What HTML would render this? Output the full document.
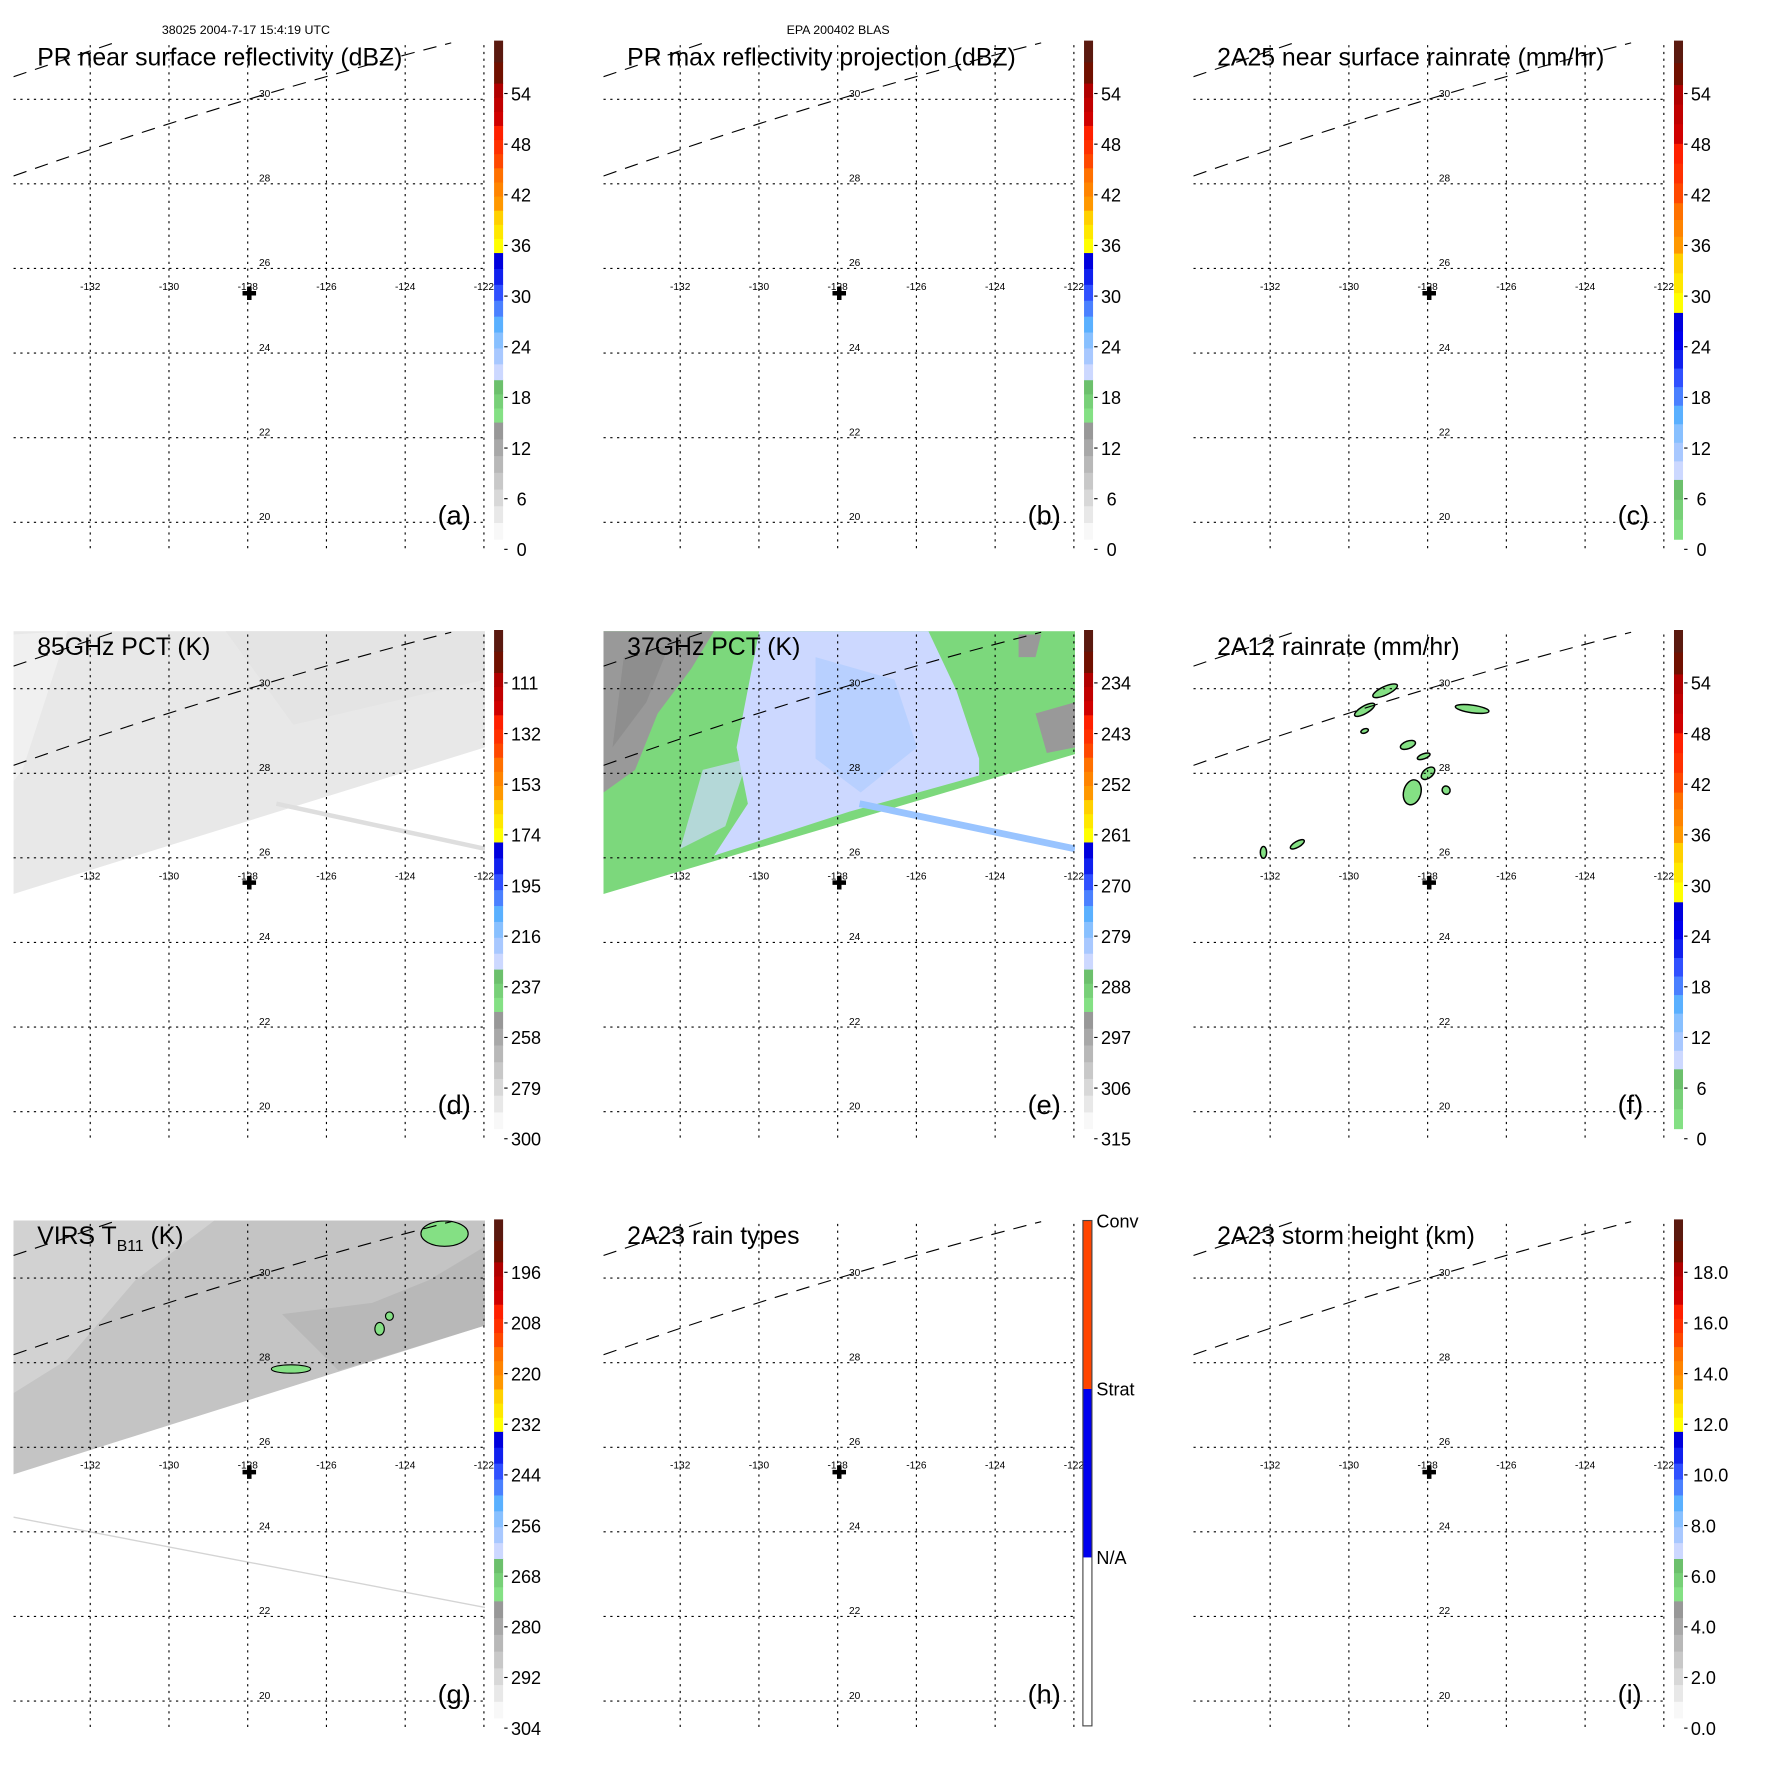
<!DOCTYPE html>
<html><head><meta charset="utf-8">
<style>
html,body{margin:0;padding:0;background:#fff;}
svg{display:block;font-family:"Liberation Sans",sans-serif;}
</style></head>
<body>
<svg id="fig" width="1771" height="1771" viewBox="0 0 1570 1570" xmlns="http://www.w3.org/2000/svg">
<text x="218" y="30" font-size="11" text-anchor="middle">38025 2004-7-17 15:4:19 UTC</text>
<text x="743" y="30" font-size="11" text-anchor="middle">EPA 200402 BLAS</text>
</svg>
<script>
const lonTicks = [-132,-130,-128,-126,-124,-122];
const latTicks = [20,22,24,26,28,30];
const panelTitles = ["PR near surface reflectivity (dBZ)","PR max reflectivity projection (dBZ)","2A25 near surface rainrate (mm/hr)","85GHz PCT (K)","37GHz PCT (K)","2A12 rainrate (mm/hr)","VIRS T_B11 (K)","2A23 rain types","2A23 storm height (km)"];
const panelLetters = ["(a)","(b)","(c)","(d)","(e)","(f)","(g)","(h)","(i)"];
const cbarLabelsA = ["0","6","12","18","24","30","36","42","48","54"];
const cbarLabelsB = ["0","6","12","18","24","30","36","42","48","54"];
const cbarLabelsC = ["0","6","12","18","24","30","36","42","48","54"];
const cbarLabelsD = ["300","279","258","237","216","195","174","153","132","111"];
const cbarLabelsE = ["315","306","297","288","279","270","261","252","243","234"];
const cbarLabelsF = ["0","6","12","18","24","30","36","42","48","54"];
const cbarLabelsG = ["304","292","280","268","256","244","232","220","208","196"];
const cbarLabelsI = ["0.0","2.0","4.0","6.0","8.0","10.0","12.0","14.0","16.0","18.0"];
const rainTypeLabels = ["N/A","Strat","Conv"];
// 2A12 rain cells: lon, lat, rx(deg lon), ry(deg lat), rotation
const cellLon = [-129.08,-129.6,-126.87,-128.5,-128.1,-127.99,-128.39,-127.53,-132.17,-131.31,-129.6];
const cellLat = [29.95,29.5,29.52,28.67,28.4,28.0,27.55,27.6,26.13,26.32,29.0];
const cellRx = [0.34,0.29,0.43,0.2,0.17,0.2,0.22,0.1,0.08,0.2,0.1];
const cellRy = [0.1,0.09,0.09,0.09,0.06,0.11,0.3,0.1,0.14,0.07,0.05];
const cellRot = [-25,-30,8,-20,-20,-40,15,-30,0,-30,-20];
// VIRS cold cloud patches
const virsLon = [-126.9,-124.65,-124.4,-123.0];
const virsLat = [27.85,28.8,29.1,31.05];
const virsRx = [0.5,0.12,0.1,0.6];
const virsRy = [0.1,0.15,0.1,0.3];

const NS="http://www.w3.org/2000/svg";
const svg=document.getElementById('fig');
function el(tag,attrs,parent){const e=document.createElementNS(NS,tag);for(const k in attrs)e.setAttribute(k,attrs[k]);(parent||svg).appendChild(e);return e;}
function xLon(lon){return 80+(lon+132)*34.9;}
function yLat(lat){return 463-(lat-20)*37.5;}

const segA=[[0,0.235,['#f8f8f8','#e8e8e8','#d8d8d8','#c8c8c8','#b8b8b8','#a8a8a8','#989898']],[0.235,0.32,['#84e084','#78d078','#6cc06c']],[0.32,0.575,['#ccd8ff','#a8c8ff','#88c0ff','#5ab0ff','#4a80ff','#3050ff','#1020ee','#0000dd']],[0.575,0.66,['#ffff00','#ffe800','#ffd000']],[0.66,0.745,['#ff9800','#ff8400','#ff7000']],[0.745,0.83,['#ff4800','#ff3000','#ff2000']],[0.83,0.915,['#d00000','#c00000','#b00000']],[0.915,1,['#701000','#5a1a10']]];
const segB=[[0,0.12,['#84e084','#78d078','#6cc06c']],[0.12,0.455,['#ccd8ff','#a8c8ff','#88c0ff','#5ab0ff','#4a80ff','#3050ff','#1020ee','#0000ee','#0000dd']],[0.455,0.574,['#ffff00','#ffe800','#ffd000']],[0.574,0.675,['#ff9800','#ff8400','#ff7000']],[0.675,0.794,['#ff4800','#ff3000','#ff2000']],[0.794,0.912,['#d00000','#c00000','#b00000']],[0.912,1,['#701000','#5a1a10']]];

const CB_TOP=36, CB_BOT=478, CB_X=438, CB_W=8;

function drawPanel(i){
  const ox=(i%3)*523, oy=Math.floor(i/3)*522.5;
  const g=el('g',{transform:`translate(${ox},${oy})`});
  
  
  const cid='clip'+i;
  const cp=el('clipPath',{id:cid},g); el('rect',{x:12,y:37,width:418,height:449},cp);
  const map=el('g',{'clip-path':`url(#${cid})`},g);
  
  
  if(i===3){
    const p=el('polygon',{points:`12,37 430,37 430,140 12,270`,fill:'#e8e8e8'},map);
    
    
    el('polygon',{points:`12,40 60,37 20,160 12,170`,fill:'#f0f0f0'},map);
    el('polygon',{points:`200,37 430,37 430,80 260,120`,fill:'#e4e4e4'},map);
    el('line',{x1:245,y1:190,x2:430,y2:230,stroke:'#dedede','stroke-width':4},map);
  }
  if(i===4){
    const p=el('polygon',{points:`12,37 430,37 430,146 12,270`,fill:'#7cd87c'},map);
    
    
    el('polygon',{points:`12,37 110,37 90,70 60,110 40,160 12,180`,fill:'#999999'},map);
    el('polygon',{points:`30,60 70,50 50,100 20,140`,fill:'#8e8e8e'},map);
    el('polygon',{points:`150,37 300,37 325,90 345,150 345,165 230,197 110,236 140,190 130,140`,fill:'#ccd8ff'},map);
    el('polygon',{points:`200,60 270,80 290,140 240,180 200,150`,fill:'#b8d0ff'},map);
    el('polygon',{points:`100,160 140,150 120,210 80,230`,fill:'#ccd8ff','opacity':0.7},map);
    el('polygon',{points:`395,110 430,100 430,140 405,145`,fill:'#999999'},map);
    el('polygon',{points:`380,40 400,40 395,60 380,60`,fill:'#999999'},map);
    el('line',{x1:239,y1:190,x2:430,y2:230,stroke:'#99c4ff','stroke-width':6},map);
  }
  if(i===6){
    const p=el('polygon',{points:`12,37 430,37 430,130 12,262`,fill:'#c4c4c4'},map);
    
    
    el('polygon',{points:`12,37 190,37 120,90 60,160 12,190`,fill:'#d2d2d2'},map);
    el('polygon',{points:`250,120 330,110 380,90 430,60 430,130 300,170`,fill:'#b8b8b8'},map);
    el('line',{x1:12,y1:300,x2:430,y2:380,stroke:'#d4d4d4','stroke-width':1.2},map);
    for(let k=0;k<virsLon.length;k++){
      const cx=xLon(virsLon[k]), cy=yLat(virsLat[k]);
      const e=el('ellipse',{cx:cx,cy:cy,rx:virsRx[k]*34.9,ry:virsRy[k]*37.5,fill:'#84e084',stroke:'#000','stroke-width':1},map);
      
      
    }
  }
  if(i===5){
    for(let k=0;k<cellLon.length;k++){
      const cx=xLon(cellLon[k]), cy=yLat(cellLat[k]);
      const e=el('ellipse',{cx:cx,cy:cy,rx:cellRx[k]*34.9,ry:cellRy[k]*37.5,fill:'#84e084',stroke:'#000','stroke-width':1.3,transform:`rotate(${cellRot[k]} ${cx} ${cy})`},map);
      
      
    }
  }
  for(const lat of latTicks){
    const l=el('line',{x1:12,x2:430,y1:yLat(lat),y2:yLat(lat),stroke:'#000','stroke-width':1,'stroke-dasharray':'2,4'},map);
    
    
    const t=el('text',{x:xLon(-128)+10,y:yLat(lat)-2,'font-size':9},g);
    t.textContent=lat;
    
    
  }
  for(const lon of lonTicks){
    const l=el('line',{x1:xLon(lon),x2:xLon(lon),y1:40,y2:486,stroke:'#000','stroke-width':1,'stroke-dasharray':'2,4'},g);
    
    
    const t=el('text',{x:xLon(lon),y:257,'font-size':9,'text-anchor':'middle'},g);
    t.textContent=lon;
    
    
  }
  const d1=el('path',{d:'M12,156 Q120,118 217,89 T400,38',fill:'none',stroke:'#000','stroke-width':1,'stroke-dasharray':'12,8'},map);
  
  
  const d2=el('path',{d:'M12,68 L101,38',fill:'none',stroke:'#000','stroke-width':1,'stroke-dasharray':'12,8'},map);
  
  
  const cr=el('path',{d:'M215,260 h12 M221,254 v12',stroke:'#000','stroke-width':4},g);
  
  
  const tt=el('text',{x:33,y:58,'font-size':22},g);
  
  
  if(i===6){tt.textContent='VIRS T';const s=el('tspan',{'font-size':14,dy:6},tt);s.textContent='B11';const s2=el('tspan',{dy:-6},tt);s2.textContent=' (K)';}
  else tt.textContent=panelTitles[i];
  const lt=el('text',{x:388,y:465,'font-size':24},g);
  lt.textContent=panelLetters[i];
  
  
  const cb=el('g',{},g);
  
  
  if(i===7){
    const x=960-523, top=37, bot=485, h=(bot-top)/3;
    const cols=['#ffffff','#0000ee','#ff4500'];
    for(let k=0;k<3;k++){
      el('rect',{x:x,y:bot-(k+1)*h,width:8,height:h,fill:cols[k]},cb);
      const t=el('text',{x:x+12,y:bot-(k+1)*h+6,'font-size':16},cb);
      t.textContent=rainTypeLabels[k];
      
      
    }
    el('rect',{x:x,y:top,width:8,height:bot-top,fill:'none',stroke:'#444','stroke-width':1},cb);
    return;
  }
  const segs=(i===2||i===5)?segB:segA;
  const H=CB_BOT-CB_TOP;
  for(const s of segs){
    const n=s[2].length, y0=CB_BOT-s[1]*H, hh=(s[1]-s[0])*H;
    for(let k=0;k<n;k++){
      el('rect',{x:CB_X,y:y0+hh*(n-1-k)/n,width:CB_W,height:hh/n+0.5,fill:s[2][k]},cb);
    }
  }
  const labels=[cbarLabelsA,cbarLabelsB,cbarLabelsC,cbarLabelsD,cbarLabelsE,cbarLabelsF,cbarLabelsG,null,cbarLabelsI][i];
  labels.forEach((lab,k)=>{
    const y=487-k*44.9;
    el('line',{x1:CB_X+9,x2:CB_X+12,y1:y,y2:y,stroke:'#000','stroke-width':1},cb);
    const t=el('text',{x:CB_X+(lab.length>=4?17:(lab.length===1?20:15)),y:y+6,'font-size':16},cb);
    t.textContent=lab;
    
    
  });
}
for(let i=0;i<9;i++)drawPanel(i);
</script>
</body></html>
